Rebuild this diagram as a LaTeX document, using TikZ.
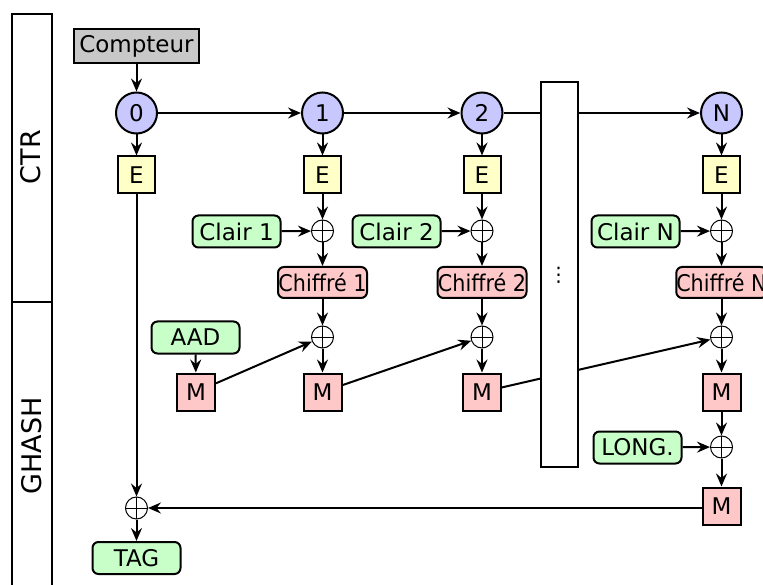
\documentclass[tikz,border=0pt]{standalone}
\usepackage{fontspec}
\setmainfont{DejaVu Sans}
\newfontfamily\narrowfont[FakeStretch=0.9]{DejaVu Sans}
\usetikzlibrary{arrows.meta}

\definecolor{cgray}{RGB}{200,200,200}
\definecolor{cblue}{RGB}{200,200,255}
\definecolor{cyellow}{RGB}{255,255,200}
\definecolor{cgreen}{RGB}{200,255,200}
\definecolor{cpink}{RGB}{255,200,200}

\begin{document}
\begin{tikzpicture}[x=1pt,y=-1pt,
  base/.style={draw, line width=2pt, inner sep=0pt, font=\fontsize{23}{27}\selectfont},
  counterbox/.style={base, fill=cgray, minimum width=125pt, minimum height=34pt},
  ctrnode/.style={base, circle, fill=cblue, minimum size=41pt},
  encbox/.style={base, fill=cyellow, minimum width=37pt, minimum height=37pt},
  multbox/.style={base, fill=cpink, minimum width=38pt, minimum height=37pt},
  plainbox/.style={base, fill=cgreen, rounded corners=6pt, minimum width=88pt, minimum height=32pt},
  cipherbox/.style={base, fill=cpink, rounded corners=6pt, minimum width=89pt, minimum height=31pt,
    font=\fontsize{23}{27}\narrowfont},
  xorop/.style={circle, draw, line width=1pt, minimum size=22pt, inner sep=0pt,
    path picture={\draw[line width=1pt]
      (path picture bounding box.north) -- (path picture bounding box.south)
      (path picture bounding box.west) -- (path picture bounding box.east);}},
  flow/.style={line width=2pt, -{Stealth[length=13pt,width=11pt,inset=4.5pt]}},
  sectionlabel/.style={font=\fontsize{27}{32}\selectfont, rotate=90}
]
\useasboundingbox (0,0) rectangle (763,585);

% section column
\draw[line width=2pt] (12,14) rectangle (52,620);
\draw[line width=2pt] (12,302) -- (52,302);
\node[sectionlabel] (ctrlabel) at (31,157) {CTR};
\node[sectionlabel] (ghashlabel) at (32,446) {GHASH};

% counter chain
\node[counterbox] (cmp) at (136.5,46) {Compteur};
\node[ctrnode] (c0) at (136.5,113) {0};
\node[ctrnode] (c1) at (322.5,113) {1};
\node[ctrnode] (c2) at (482,113) {2};
\node[ctrnode] (cN) at (721.5,113) {N};

\node[encbox] (e0) at (136.5,175) {E};
\node[encbox] (e1) at (322.5,175) {E};
\node[encbox] (e2) at (482,175) {E};
\node[encbox] (eN) at (721.5,175) {E};

\node[xorop] (x1) at (322.5,231) {};
\node[xorop] (x2) at (482,231) {};
\node[xorop] (xN) at (721.5,231) {};

\node[plainbox] (p1) at (236.5,231.5) {Clair 1};
\node[plainbox] (p2) at (396.5,231.5) {Clair 2};
\node[plainbox] (pN) at (635.5,231.5) {Clair N};

\node[cipherbox] (k1) at (322.5,282.5) {Chiffré 1};
\node[cipherbox] (k2) at (482,282.5) {Chiffré 2};
\node[cipherbox] (kN) at (721.5,282.5) {Chiffré N};

% authentication chain
\node[xorop] (g1) at (322.5,337) {};
\node[xorop] (g2) at (482,337) {};
\node[xorop] (gN) at (721.5,337) {};

\node[plainbox] (aad) at (195.5,337.5) {AAD};
\node[multbox] (m0) at (196,392) {M};
\node[multbox] (m1) at (322.5,392) {M};
\node[multbox] (m2) at (482,392) {M};
\node[multbox] (mN) at (721.5,392) {M};

\node[plainbox] (len) at (637.5,447.5) {LONG.};
\node[xorop] (xl) at (721.5,447) {};
\node[multbox] (mb) at (721.5,506) {M};

\node[xorop] (xf) at (136.5,508) {};
\node[plainbox] (tag) at (136.5,558) {TAG};

% counter connectors
\draw[flow] (cmp) -- (c0);
\draw[flow] (c0) -- (c1);
\draw[flow] (c1) -- (c2);
\draw[flow] (c2) -- (cN);
\foreach \i in {0,1,2,N} \draw[flow] (c\i) -- (e\i);
\foreach \i in {1,2,N} {
  \draw[flow] (e\i) -- (x\i);
  \draw[flow] (p\i) -- (x\i);
  \draw[flow] (x\i) -- (k\i);
  \draw[flow] (k\i) -- (g\i);
}
\draw[flow] (g1) -- (m1);
\draw[flow] (g2) -- (m2);
\draw[flow] (gN) -- (mN);

% hash connectors
\draw[flow] (aad) -- (m0);
\draw[flow] (m0) -- (g1);
\draw[flow] (m1) -- (g2);
\draw[flow] (m2) -- (gN);
\draw[flow] (mN) -- (xl);
\draw[flow] (len) -- (xl);
\draw[flow] (xl) -- (mb);
\draw[flow] (mb.west |- xf) -- (xf);
\draw[flow] (e0) -- (xf);
\draw[flow] (xf) -- (tag);

% elided blocks
\node[draw, line width=2pt, fill=white, inner sep=0pt, minimum width=37pt, minimum height=385pt]
  (skip) at (559.5,274.5) {};
\node[font=\fontsize{20}{22}\selectfont] (dots) at (558.5,275) {⋮};
\end{tikzpicture}
\end{document}
